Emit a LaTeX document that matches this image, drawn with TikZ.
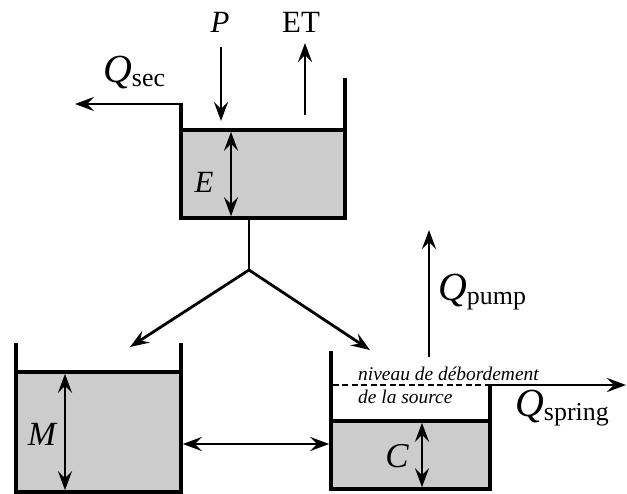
\documentclass[tikz,border=0pt]{standalone}
\usepackage{fontspec}
\setmainfont{Liberation Serif}
\usetikzlibrary{arrows.meta}

\newcommand{\flowlbl}[1]{{\fontsize{40}{40}\selectfont\itshape Q}\raisebox{-4bp}{\fontsize{26}{26}\selectfont #1}}

\begin{document}
\begin{tikzpicture}[
    x=1bp, y=-1bp, >={Stealth[length=19bp, width=14bp, inset=7bp]},
    wall/.style={line width=3.6bp},
    water/.style={fill=black!20},
    flow/.style={->, line width=2.8bp},
    depth/.style={<->, line width=2.8bp},
    lbl/.style={inner sep=0pt, font=\fontsize{31}{31}\selectfont},
    note/.style={inner sep=0pt, anchor=base west, font=\fontsize{19.5}{23}\selectfont\itshape}
]
\useasboundingbox (0,0) rectangle (627,494);

%% ============================================================
%% TOP RESERVOIR (E)
%% ============================================================
\coordinate (e_wl) at (181,104);
\coordinate (e_wr) at (345,78);
\coordinate (e_top) at (231,131.8);
\coordinate (e_bot) at (231,216.2);
\coordinate (e_out) at (249,218);
\fill[water] (181,130) rectangle (345,218);
\draw[wall] (181,130) -- (345,130);
\draw[wall] (e_wl) -- (181,218) -- (345,218) -- (e_wr);

\node[lbl, anchor=base] (p) at (220,33) {\itshape P};
\node[lbl, anchor=base] (et) at (301,33) {ET};
\node[anchor=base west, inner sep=0pt] (qsec) at (103,83) {\flowlbl{sec}};
\node[lbl] (e) at (204,182) {\itshape E};

\coordinate (p_in) at (221,121);
\coordinate (et_from) at (305,115);
\coordinate (qsec_end) at (75,104);
\draw[flow] (221,47) -- (p_in);
\draw[flow] (et_from) -- (305,43);
\draw[flow] ([xshift=1.8bp]e_wl) -- (qsec_end);
\draw[depth] (e_top) -- (e_bot);

%% --- split ---
\coordinate (split) at (249,270);
\coordinate (m_in) at (130,347);
\coordinate (c_in) at (370,350);
\draw[line width=2.8bp] (e_out) -- (split);
\draw[flow] (split) -- (m_in);
\draw[flow] (split) -- (c_in);

%% ============================================================
%% LEFT RESERVOIR (M)
%% ============================================================
\fill[water] (16,372) rectangle (181,492);
\draw[wall] (16,372) -- (181,372);
\draw[wall] (16,343) -- (16,492) -- (181,492) -- (181,343);
\node[lbl, font=\fontsize{34}{34}\selectfont] (m) at (42,434) {\itshape M};
\draw[depth] (65,373.8) -- (65,490.2);

\coordinate (m_side) at (182.8,444);
\coordinate (c_side) at (329.2,444);
\draw[depth] (m_side) -- (c_side);

%% ============================================================
%% RIGHT RESERVOIR (C)
%% ============================================================
\coordinate (c_over) at (490,385);
\fill[water] (331,421) rectangle (490,489);
\draw[wall] (331,421) -- (490,421);
\draw[wall] (331,351) -- (331,489) -- (490,489) -- (c_over);
\draw[line width=2.2bp, dash pattern=on 6bp off 3.5bp] (332.8,385) -- (c_over);
\node[lbl, font=\fontsize{35}{35}\selectfont] (c) at (397,456) {\itshape C};
\draw[depth] (422,422.8) -- (422,487.2);

\node[note] (lvl1) at (358,380) {niveau de débordement};
\node[note] (lvl2) at (358,403) {de la source};

\coordinate (spring_end) at (626,385);
\coordinate (pump_from) at (429,357);
\coordinate (pump_end) at (429,230);
\draw[flow] (c_over) -- (spring_end);
\draw[flow] (pump_from) -- (pump_end);
\node[anchor=base west, inner sep=0pt] (qpump) at (438,300) {\flowlbl{pump}};
\node[anchor=base west, inner sep=0pt] (qspring) at (515,416) {\flowlbl{spring}};

\end{tikzpicture}
\end{document}
